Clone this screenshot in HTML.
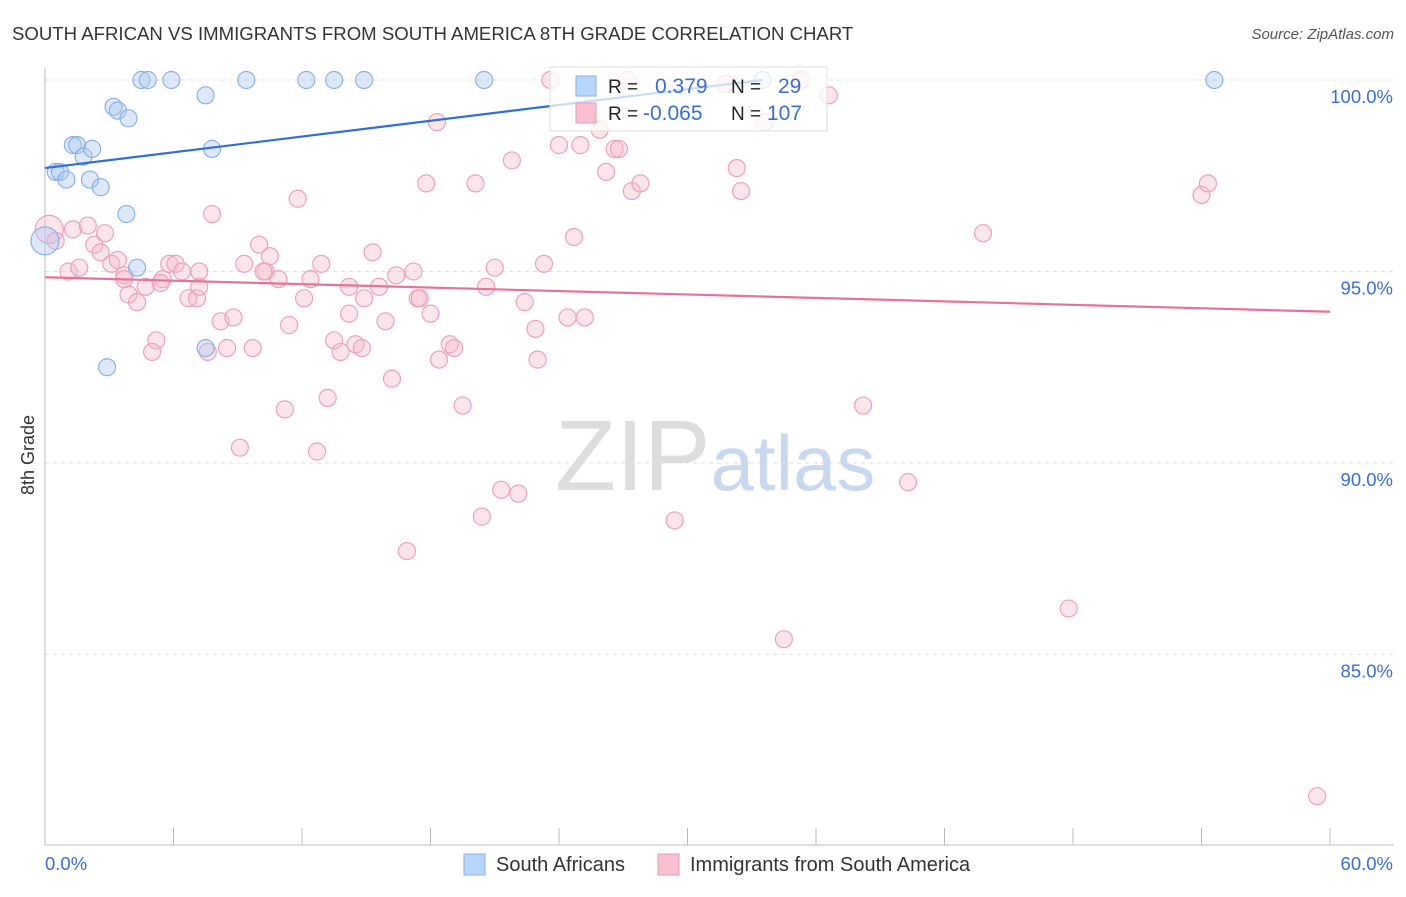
<!DOCTYPE html>
<html><head><meta charset="utf-8"><style>
body{margin:0;background:#fff;font-family:"Liberation Sans",sans-serif}
svg text{font-family:"Liberation Sans",sans-serif}
</style></head><body>
<svg id="c" width="1406" height="892" xmlns="http://www.w3.org/2000/svg">
<text x="12" y="40" font-size="18.6" fill="#333">SOUTH AFRICAN VS IMMIGRANTS FROM SOUTH AMERICA 8TH GRADE CORRELATION CHART</text>
<text x="1394" y="39" font-size="15" fill="#555" text-anchor="end" font-style="italic">Source: ZipAtlas.com</text>
<text transform="translate(34,455) rotate(-90)" font-size="18" fill="#333" text-anchor="middle">8th Grade</text>
<text x="555" y="490" font-size="100" fill="#ddd" font-family="Liberation Serif">ZIP<tspan fill="#c8d8f0" font-family="Liberation Sans" font-size="78">atlas</tspan></text>
<g id="grid"></g><g id="pts"></g><g id="lines"></g>
<g>
<rect x="550" y="67" width="277" height="64" fill="rgba(255,255,255,0.75)" stroke="#ddd"/>
<rect x="576" y="76" width="20" height="20" fill="#b8d4f8" stroke="#88b0e8"/>
<rect x="576" y="103" width="20" height="20" fill="#f8c0d0" stroke="#e898b0"/>
<text x="608" y="93" font-size="19" fill="#222">R =</text>
<text x="655" y="93" font-size="21" fill="#3a6fd0">0.379</text>
<text x="731" y="93" font-size="19" fill="#222">N =</text>
<text x="778" y="93" font-size="21" fill="#3a6fd0">29</text>
<text x="608" y="120" font-size="19" fill="#222">R =</text>
<text x="643" y="120" font-size="21" fill="#3a6fd0">-0.065</text>
<text x="731" y="120" font-size="19" fill="#222">N =</text>
<text x="767" y="120" font-size="21" fill="#3a6fd0">107</text>
</g>
<g>
<rect x="464" y="854" width="21" height="21" fill="#b8d4f8" stroke="#88b0e8"/>
<text x="496" y="871" font-size="20" fill="#333">South Africans</text>
<rect x="658" y="854" width="21" height="21" fill="#f8c0d0" stroke="#e898b0"/>
<text x="690" y="871" font-size="20" fill="#333">Immigrants from South America</text>
</g>
</svg>
<script>
const yTicks=[100,95,90,85];
const xTickLabels=["0.0%","60.0%"];
const blueX=[0.0,0.5,0.7,1.0,1.3,1.5,1.8,2.2,2.1,2.6,3.2,3.4,3.9,3.8,4.3,2.9,4.5,4.8,5.9,7.5,7.8,7.5,9.4,12.2,13.5,14.9,20.5,33.5,54.6];
const blueY=[95.8,97.6,97.6,97.4,98.3,98.3,98.0,98.2,97.4,97.2,99.3,99.2,99.0,96.5,95.1,92.5,100,100,100,99.6,98.2,93.0,100,100,100,100,100,100,100];
const pinkX=[0.2,0.5,1.1,1.3,1.6,2.0,2.3,2.6,2.8,3.1,3.4,3.7,3.9,4.3,4.7,5.2,5.0,5.5,5.8,6.1,6.4,6.7,7.1,7.2,7.6,7.8,8.2,8.5,8.8,9.1,9.3,9.7,10.0,10.3,10.5,10.9,11.2,11.4,11.8,12.1,12.4,12.7,12.9,13.2,13.5,13.8,14.2,14.5,14.8,14.9,15.3,15.6,15.9,16.2,16.4,16.9,17.2,17.4,17.8,18.0,18.3,18.4,18.9,19.1,19.5,20.1,20.4,20.6,21.0,21.3,21.8,22.1,22.4,22.9,23.0,23.3,23.6,24.0,24.4,24.7,25.0,25.2,25.9,26.2,26.6,26.8,27.2,27.4,27.8,29.4,31.8,32.3,32.5,33.6,34.5,35.3,36.6,38.2,40.3,43.8,47.8,54.0,54.3,59.4,5.4,7.2,14.2,17.5,10.2,3.7];
const pinkY=[96.1,95.8,95.0,96.1,95.1,96.2,95.7,95.5,96.0,95.2,95.3,94.9,94.4,94.2,94.6,93.2,92.9,94.8,95.2,95.2,95.0,94.3,94.3,94.6,92.9,96.5,93.7,93.0,93.8,90.4,95.2,93.0,95.7,95.0,95.4,94.8,91.4,93.6,96.9,94.3,94.8,90.3,95.2,91.7,93.2,92.9,93.9,93.1,93.0,94.3,95.5,94.6,93.7,92.2,94.9,87.7,95.0,94.3,97.3,93.9,98.9,92.7,93.1,93.0,91.5,97.3,88.6,94.6,95.1,89.3,97.9,89.2,94.2,93.5,92.7,95.2,100,98.3,93.8,95.9,98.3,93.8,98.7,97.6,98.2,98.2,100,97.1,97.3,88.5,99.9,97.7,97.1,98.9,85.4,100,99.6,91.5,89.5,96.0,86.2,97.0,97.3,81.3,94.7,95.0,94.6,94.3,95.0,94.8];
const NS="http://www.w3.org/2000/svg";
const X=v=>45+v*1285/60, Y=v=>80+(100-v)*38.3;
function mk(tag,attrs,parent){const e=document.createElementNS(NS,tag);for(const k in attrs)e.setAttribute(k,attrs[k]);document.getElementById(parent).appendChild(e);return e;}
yTicks.forEach(t=>{
 const l=mk('line',{x1:45,x2:1394,y1:Y(t),y2:Y(t),stroke:'#ddd','stroke-dasharray':'4,4'},'grid');
 
 
 const tx=mk('text',{x:1393,y:Y(t)+23,'font-size':18.5,fill:'#3a6fd0','text-anchor':'end'},'grid');
 tx.textContent=t.toFixed(1)+'%';
 
 
});
const ax=mk('line',{x1:45,x2:45,y1:68,y2:845,stroke:'#bbb'},'grid');


const bx=mk('line',{x1:45,x2:1394,y1:845,y2:845,stroke:'#bbb'},'grid');


for(let i=0;i<=10;i++){const x=45+i*128.5;const t=mk('line',{x1:x,x2:x,y1:828,y2:845,stroke:'#bbb'},'grid');
 
 }
[[0,'start',45],[1,'end',1393]].forEach(([i,a,x])=>{const t=mk('text',{x:x,y:870,'font-size':18.5,fill:'#3a6fd0','text-anchor':a},'grid');t.textContent=xTickLabels[i];
 
 });
pinkX.forEach((v,i)=>{const c=mk('circle',{cx:X(v),cy:Y(pinkY[i]),r:i==0?14:8.5,fill:'rgba(248,180,200,0.35)',stroke:'#eea0b8','stroke-width':1.2},'pts');
 
 });
blueX.forEach((v,i)=>{const c=mk('circle',{cx:X(v),cy:Y(blueY[i]),r:i==0?14:8.5,fill:'rgba(170,200,245,0.4)',stroke:'#88b0e8','stroke-width':1.2},'pts');
 
 });
const bl=[97.7,(100-97.7)/33.5], pl=[94.85,-0.9/60];
const l1=mk('line',{x1:X(0),y1:Y(bl[0]),x2:X(33.5),y2:Y(bl[0]+bl[1]*33.5),stroke:'#2f6fd8','stroke-width':2.2},'lines');


const l2=mk('line',{x1:X(0),y1:Y(pl[0]),x2:X(60),y2:Y(pl[0]+pl[1]*60),stroke:'#e8709a','stroke-width':2.2},'lines');


</script>
</body></html>
